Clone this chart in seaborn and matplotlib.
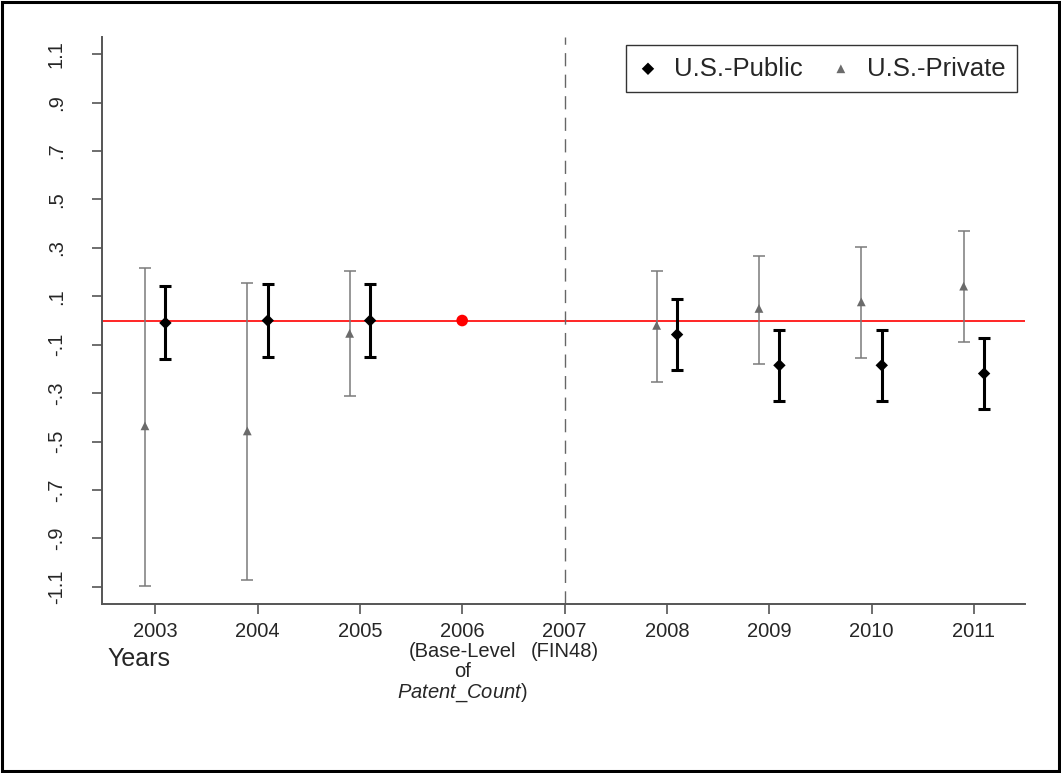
import matplotlib
matplotlib.use("Agg")
import matplotlib.pyplot as plt
from matplotlib.patches import Rectangle
import seaborn as sns
import pandas as pd

# event-study coefficients
years = [2003, 2004, 2005, 2008, 2009, 2010, 2011]
pub_coef = [-0.010, 0.000, 0.000, -0.058, -0.185, -0.185, -0.219]
pub_lo = [-0.160, -0.152, -0.149, -0.203, -0.331, -0.331, -0.364]
pub_hi = [0.143, 0.150, 0.150, 0.089, -0.039, -0.039, -0.072]
priv_coef = [-0.435, -0.456, -0.053, -0.020, 0.050, 0.077, 0.142]
priv_lo = [-1.098, -1.070, -0.310, -0.254, -0.178, -0.155, -0.090]
priv_hi = [0.219, 0.157, 0.204, 0.205, 0.267, 0.302, 0.368]
base_year = [2006]
base_val = [0.0]
tick_years = [2003, 2004, 2005, 2006, 2007, 2008, 2009, 2010, 2011]
tick_labels = ["2003", "2004", "2005",
               "2006\n(Base-Level\nof\n$\\mathit{Patent\\_Count}$)",
               "2007\n(FIN48)", "2008", "2009", "2010", "2011"]
y_ticks = [-1.1, -0.9, -0.7, -0.5, -0.3, -0.1, 0.1, 0.3, 0.5, 0.7, 0.9, 1.1]
y_labels = ["-1.1", "-.9", "-.7", "-.5", "-.3", "-.1", ".1", ".3", ".5", ".7", ".9", "1.1"]

sns.set_style("ticks")
plt.rcParams["font.family"] = ["Liberation Sans", "DejaVu Sans"]
plt.rcParams["mathtext.fontset"] = "custom"
plt.rcParams["mathtext.it"] = "Liberation Sans:italic"
plt.rcParams["mathtext.rm"] = "Liberation Sans"

pub = pd.DataFrame({"year": years, "coef": pub_coef, "lo": pub_lo, "hi": pub_hi})
priv = pd.DataFrame({"year": years, "coef": priv_coef, "lo": priv_lo, "hi": priv_hi})
pub["x"] = pub["year"] + 0.1
priv["x"] = priv["year"] - 0.1

fig = plt.figure(figsize=(10.61, 7.73), dpi=100)
ax = fig.add_axes([0.0961, 0.2186, 0.8700, 0.7335])

spine_col = "#555555"
ax.axhline(0, color="red", lw=1.2, zorder=1)
ax.axvline(2007, color="#666666", lw=1.0, ls=(0, (9.5, 6)), zorder=1)

# confidence intervals
ax.errorbar(priv["x"], priv["coef"],
            yerr=[priv["coef"] - priv["lo"], priv["hi"] - priv["coef"]],
            fmt="none", ecolor="#7a7a7a", elinewidth=1.1, capsize=4, capthick=1.1, zorder=2)
ax.errorbar(pub["x"], pub["coef"],
            yerr=[pub["coef"] - pub["lo"], pub["hi"] - pub["coef"]],
            fmt="none", ecolor="black", elinewidth=2.2, capsize=4.5, capthick=2.2, zorder=3)

sns.scatterplot(data=pub, x="x", y="coef", marker="D", s=40, color="black",
                edgecolor="none", label="U.S.-Public", ax=ax, zorder=4)
sns.scatterplot(data=priv, x="x", y="coef", marker="^", s=40, color="#6b6b6b",
                edgecolor="none", label="U.S.-Private", ax=ax, zorder=4)
sns.scatterplot(x=base_year, y=base_val, marker="o", s=70, color="red",
                edgecolor="none", ax=ax, zorder=5, legend=False)

ax.set_xlim(2002.48, 2011.5)
ax.set_ylim(-1.171, 1.171)
ax.set_xticks(tick_years)
ax.set_xticklabels(tick_labels, fontsize=14.5, linespacing=1.05)
ax.set_yticks(y_ticks)
ax.set_yticklabels(y_labels, fontsize=14.5, rotation=90, va="center")
ax.set_xlabel("")
ax.set_ylabel("")

for side in ["top", "right"]:
    ax.spines[side].set_visible(False)
for side in ["left", "bottom"]:
    ax.spines[side].set_color(spine_col)
    ax.spines[side].set_linewidth(1.4)
ax.tick_params(axis="x", length=7, width=1.2, color=spine_col, pad=6)
ax.tick_params(axis="y", length=7, width=1.2, color=spine_col, pad=19)

leg = ax.legend(loc="upper right", bbox_to_anchor=(0.991, 0.986), ncol=2,
                fontsize=18.5, frameon=True, fancybox=False, edgecolor="black",
                handlelength=0.8, handletextpad=0.6, columnspacing=1.1,
                borderpad=0.45, borderaxespad=0)
leg.get_frame().set_linewidth(1.0)

fig.text(107 / 1061, 1 - 666 / 773, "Years", fontsize=18, va="baseline", ha="left")

# outer frame around the figure
fig.patches.append(Rectangle((0.002, 0.003), 0.996, 0.994, fill=False, lw=2.2,
                             edgecolor="black", transform=fig.transFigure, figure=fig))

fig.savefig("out.png", dpi=100)
